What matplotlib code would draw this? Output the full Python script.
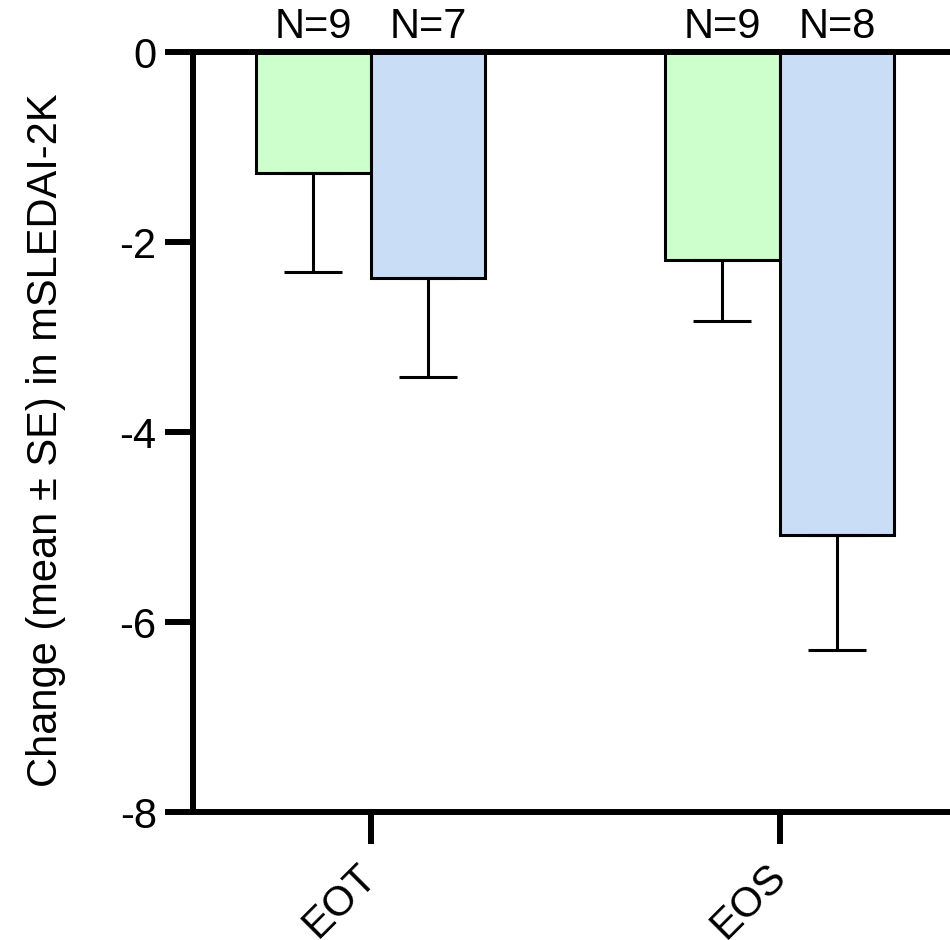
import matplotlib.pyplot as plt
import numpy as np

plt.rcParams['font.family'] = ['Liberation Sans', 'DejaVu Sans']

groups = ["EOT", "EOS"]
green_mean = [-1.27, -2.19]
green_se = [1.04, 0.64]
blue_mean = [-2.38, -5.08]
blue_se = [1.04, 1.21]
green_n = ["N=9", "N=9"]
blue_n = ["N=7", "N=8"]

fig = plt.figure(figsize=(9.5, 9.4), dpi=100)
ax = fig.add_axes([0.203, 0.136, 0.805, 0.8085])

x = np.arange(len(groups))
w = 0.28

for off, means, ses, col, labels in [(-w / 2, green_mean, green_se, "#CCFFCC", green_n),
                                     (w / 2, blue_mean, blue_se, "#C9DDF7", blue_n)]:
    pos = x + off
    ax.bar(pos, means, width=w, color=col, edgecolor="black", linewidth=2.2, zorder=2)
    ax.errorbar(pos, means, yerr=[ses, [0] * len(ses)], fmt="none", ecolor="black",
                elinewidth=2.2, capsize=21, capthick=2.2, zorder=3)
    for p, lab in zip(pos, labels):
        ax.annotate(lab, (p, 0), xytext=(0, 10), textcoords="offset points",
                    ha="center", va="baseline", fontsize=30, annotation_clip=False)

ax.set_xlim(-0.435, 1.435)
ax.set_ylim(-8, 0)
ax.set_yticks([0, -2, -4, -6, -8])
ax.set_yticklabels(["0", "-2", "-4", "-6", "-8"])
ax.set_xticks(x)
ax.set_xticklabels(groups, rotation=45, ha="right", va="center", rotation_mode="anchor")

for s in ["left", "bottom", "top"]:
    ax.spines[s].set_linewidth(4.3)
ax.spines["right"].set_visible(False)
ax.spines["top"].set_zorder(4)

ax.tick_params(axis="y", length=20, width=4.3, pad=6, labelsize=30)
ax.tick_params(axis="x", length=23, width=4.3, pad=19, labelsize=30)

ax.set_ylabel("Change (mean ± SE) in mSLEDAI-2K", fontsize=30)
ax.yaxis.set_label_coords(-0.166, 0.4895)

fig.savefig("out.png", dpi=100)
